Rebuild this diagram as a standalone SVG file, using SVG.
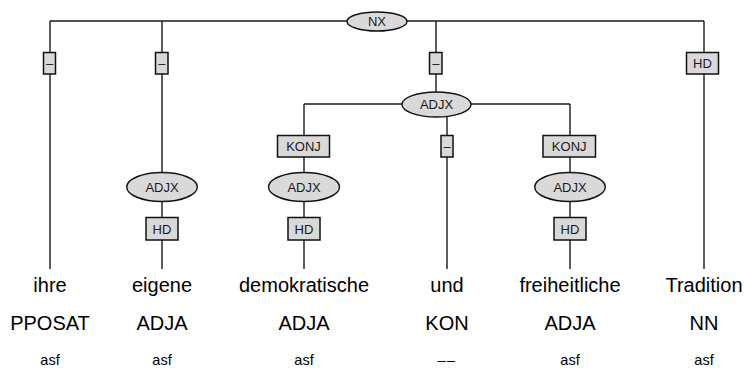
<svg xmlns="http://www.w3.org/2000/svg" width="744" height="372" viewBox="0 0 744 372">
<style>
.ln{stroke:#1a1a1a;stroke-width:1.4;fill:none}
.box{fill:#d9d9d9;stroke:#111;stroke-width:1.5}
.ell{fill:#d9d9d9;stroke:#111;stroke-width:1.4}
.lab{font-family:"Liberation Sans",Arial,sans-serif;font-size:13px;fill:#1a1a1a;text-anchor:middle}
.w{font-family:"Liberation Sans",Arial,sans-serif;font-size:20px;fill:#000;text-anchor:middle}
.m{font-family:"Liberation Sans",Arial,sans-serif;font-size:14.5px;fill:#000;text-anchor:middle}
</style>
<rect width="744" height="372" fill="#fff"/>
<g id="connectors">
<path class="ln" d="M50,21H704M50,21V269M162,21V173M162,201V269M436,21V92M304,104H570M304,104V269M447,116V269M570,104V269M704,21V269"/>
</g>
<g id="nx"><ellipse class="ell" cx="377" cy="21.5" rx="30" ry="9.5"/><text class="lab" x="377" y="26">NX</text></g>
<g id="e1"><rect class="box" x="43.5" y="52.5" width="12" height="21.5"/><text class="lab" x="49.5" y="67.5">–</text></g>
<g id="e2"><rect class="box" x="155.5" y="52.5" width="12.5" height="21.5"/><text class="lab" x="161.8" y="67.5">–</text></g>
<g id="e3"><rect class="box" x="429.5" y="52.5" width="12.5" height="21.5"/><text class="lab" x="435.8" y="67.5">–</text></g>
<g id="e4"><rect class="box" x="686.5" y="52.5" width="32" height="21.5"/><text class="lab" x="702.5" y="68">HD</text></g>
<g id="adjx1"><ellipse class="ell" cx="436.5" cy="104.5" rx="34.5" ry="12.5"/><text class="lab" x="436.5" y="109">ADJX</text></g>
<g id="konj1"><rect class="box" x="277.5" y="135.5" width="52" height="21.5"/><text class="lab" x="303.5" y="151">KONJ</text></g>
<g id="e5"><rect class="box" x="441" y="135.5" width="12" height="21.5"/><text class="lab" x="447" y="150.5">–</text></g>
<g id="konj2"><rect class="box" x="543" y="135.5" width="52.5" height="21.5"/><text class="lab" x="569.2" y="151">KONJ</text></g>
<g id="adjx2"><ellipse class="ell" cx="162" cy="187" rx="35.3" ry="14.5"/><text class="lab" x="162" y="191.5">ADJX</text></g>
<g id="adjx3"><ellipse class="ell" cx="304" cy="187" rx="35.5" ry="14.5"/><text class="lab" x="304" y="191.5">ADJX</text></g>
<g id="adjx4"><ellipse class="ell" cx="570" cy="187" rx="35.3" ry="14.5"/><text class="lab" x="570" y="191.5">ADJX</text></g>
<g id="hd1"><rect class="box" x="146" y="217.5" width="32" height="22.5"/><text class="lab" x="162" y="233.5">HD</text></g>
<g id="hd2"><rect class="box" x="288" y="217.5" width="32" height="22.5"/><text class="lab" x="304" y="233.5">HD</text></g>
<g id="hd3"><rect class="box" x="554" y="217.5" width="32" height="22.5"/><text class="lab" x="570" y="233.5">HD</text></g>
<g id="t1"><text class="w" x="50" y="292">ihre</text><text class="w" x="50" y="330">PPOSAT</text><text class="m" x="50" y="365">asf</text></g>
<g id="t2"><text class="w" x="162" y="292">eigene</text><text class="w" x="162" y="330">ADJA</text><text class="m" x="162" y="365">asf</text></g>
<g id="t3"><text class="w" x="304" y="292">demokratische</text><text class="w" x="304" y="330">ADJA</text><text class="m" x="304" y="365">asf</text></g>
<g id="t4"><text class="w" x="447" y="292">und</text><text class="w" x="447" y="330">KON</text><text class="m" x="447" y="365" letter-spacing="1.5">––</text></g>
<g id="t5"><text class="w" x="570" y="292">freiheitliche</text><text class="w" x="570" y="330">ADJA</text><text class="m" x="570" y="365">asf</text></g>
<g id="t6"><text class="w" x="704" y="292">Tradition</text><text class="w" x="704" y="330">NN</text><text class="m" x="704" y="365">asf</text></g>
</svg>
